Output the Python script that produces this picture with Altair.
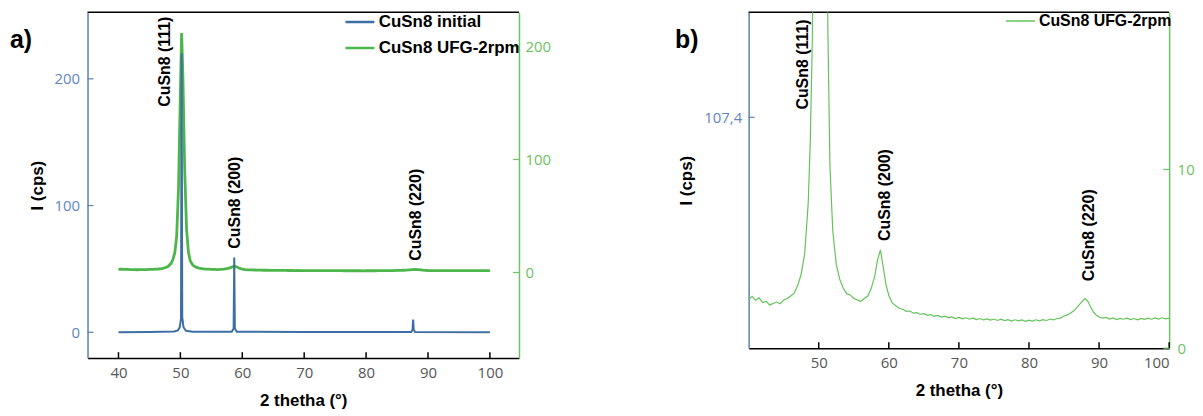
import altair as alt
import pandas as pd

# ---------------- data ----------------
# CuSn8 UFG-2rpm (green) : 2theta / intensity
g_theta = [40.0, 40.5, 41.0, 41.5, 42.0, 42.5, 43.0, 43.5, 44.0, 44.5, 45.0, 45.5, 46.0, 46.5,
           47.0, 47.5, 48.0, 48.5, 48.8, 49.1, 49.4, 49.7, 50.0, 50.2, 50.4, 50.7, 51.0, 51.3,
           51.6, 52.0, 52.5, 53.0, 53.5, 54.0, 54.5, 55.0, 55.5, 56.0, 56.5, 57.0, 57.5, 58.0,
           58.4, 58.8, 59.2, 59.6, 60.0, 60.5, 61.0, 61.5, 62.0, 62.5, 63.0, 63.5, 64.0, 64.5,
           65.0, 65.5, 66.0, 66.5, 67.0, 67.5, 68.0, 68.5, 69.0, 69.5, 70.0, 70.5, 71.0, 71.5,
           72.0, 72.5, 73.0, 73.5, 74.0, 74.5, 75.0, 75.5, 76.0, 76.5, 77.0, 77.5, 78.0, 78.5,
           79.0, 79.5, 80.0, 80.5, 81.0, 81.5, 82.0, 82.5, 83.0, 83.5, 84.0, 84.5, 85.0, 85.5,
           86.0, 86.5, 87.0, 87.5, 88.0, 88.4, 88.8, 89.2, 89.6, 90.0, 90.5, 91.0, 91.5, 92.0,
           92.5, 93.0, 93.5, 94.0, 94.5, 95.0, 95.5, 96.0, 96.5, 97.0, 97.5, 98.0, 98.5, 99.0,
           99.5, 100.0]
g_int = [2.72, 2.90, 2.68, 2.82, 2.55, 2.62, 2.42, 2.50, 2.58, 2.48, 2.70, 2.78, 2.92, 3.08,
         3.50, 4.15, 5.30, 8.10, 11.6, 17.5, 32.0, 75.0, 160.0, 212.0, 175.0, 90.0, 38.0, 18.0,
         10.2, 6.60, 4.70, 3.85, 3.35, 3.05, 2.98, 2.78, 2.70, 2.62, 2.78, 2.92, 3.35, 4.05,
         4.95, 5.50, 4.55, 3.55, 2.95, 2.52, 2.38, 2.22, 2.18, 2.06, 2.08, 1.96, 1.99, 1.90,
         1.93, 1.84, 1.88, 1.78, 1.83, 1.74, 1.79, 1.70, 1.75, 1.66, 1.72, 1.64, 1.70, 1.62,
         1.68, 1.60, 1.66, 1.58, 1.64, 1.57, 1.63, 1.55, 1.62, 1.54, 1.60, 1.52, 1.59, 1.53,
         1.58, 1.50, 1.57, 1.52, 1.59, 1.53, 1.60, 1.55, 1.63, 1.58, 1.66, 1.68, 1.80, 1.86,
         1.98, 2.12, 2.35, 2.58, 2.78, 2.62, 2.30, 2.02, 1.85, 1.74, 1.68, 1.72, 1.63, 1.69,
         1.60, 1.67, 1.62, 1.68, 1.60, 1.66, 1.59, 1.67, 1.61, 1.68, 1.62, 1.69, 1.63, 1.70,
         1.64, 1.68]

# CuSn8 initial (blue)
b_theta = [40.0, 45.0, 49.0, 49.6, 49.9, 50.1, 50.2, 50.3, 50.5, 50.9, 52.0, 58.3, 58.6, 58.7,
           58.8, 59.1, 70.0, 87.3, 87.5, 87.6, 87.7, 87.9, 100.0]
b_int = [0.0, 0.3, 0.6, 1.5, 4.0, 11.0, 220.0, 12.0, 4.0, 1.2, 0.4, 0.4, 3.0, 59.0,
         3.0, 0.4, 0.2, 0.3, 2.0, 10.0, 2.0, 0.3, 0.0]

series_names = ["CuSn8 initial", "CuSn8 UFG-2rpm"]

# ticks
x_ticks_a = [40, 50, 60, 70, 80, 90, 100]
yl_ticks_a = [0, 100, 200]
yr_ticks_a = [0, 100, 200]
x_ticks_b = [50, 60, 70, 80, 90, 100]
yl_ticks_b = [107.4]
yr_ticks_b = [0, 10]

# peak annotations
peak_labels = ["CuSn8 (111)", "CuSn8 (200)", "CuSn8 (220)"]
peak_theta_a = [47.6, 58.9, 88.0]
peak_pos_a = [178.0, 66.0, 56.5]
peak_theta_b = [47.8, 59.4, 88.5]
peak_pos_b = [13.35, 6.0, 3.75]

panel_labels = ["a)", "b)"]

# ---------------- styles ----------------
BLUE = "#3d6ea6"
GREEN_A = "#4db64a"
GREEN_B = "#63c359"
AX_BLUE = "#5b80b0"
AX_GREEN = "#6cc462"
LBL_BLUE = "#5f87bb"
LBL_GREEN = "#6dbf5f"
FONT = "Open Sans"
BFONT = "Liberation Sans"

WA, HA = 434, 348
WB, HB = 423, 338

XA_DOM = [35, 104.7]
YLA_DOM = [-20.4, 252.6]
YRA_DOM = [-75.8, 230.4]
XB_DOM = [40, 100]
YLB_DOM = [0, 156.3]
YRB_DOM = [0, 18.8]

df_g = pd.DataFrame({"t": g_theta, "v": g_int, "s": series_names[1]})
df_b = pd.DataFrame({"t": b_theta, "v": b_int, "s": series_names[0]})


def yscale(dom):
    return alt.Scale(domain=dom, nice=False, zero=False)


def xaxis(vals):
    return alt.Axis(values=vals, ticks=False, grid=False, domainColor="black", domainWidth=1.5,
                    labelColor="#555555", labelFont=FONT, labelFontSize=15, labelPadding=7,
                    title="2 thetha (°)", titleFont=BFONT, titleFontSize=17, titleFontWeight="bold",
                    titleColor="black", titlePadding=13)


def tick_rules_x(vals, xenc, h):
    return alt.Chart(pd.DataFrame({"t": vals})).mark_rule(color="black", strokeWidth=1.5).encode(
        x=xenc, y=alt.value(h), y2=alt.value(h - 6))


def tick_rules_y(vals, dom, x0, x1, color):
    return alt.Chart(pd.DataFrame({"v": vals})).mark_rule(color=color, strokeWidth=1.2).encode(
        y=alt.Y("v:Q", scale=yscale(dom), axis=None),
        x=alt.value(x0), x2=alt.value(x1))


def top_border(xdom, xenc, ydom):
    # frame line along the top of the plot: from x-domain start to end at the y-domain top
    return alt.Chart(pd.DataFrame({"t": xdom, "v": [ydom[1], ydom[1]]})).mark_line(
        color="black", strokeWidth=1.5).encode(
        x=xenc, y=alt.Y("v:Q", scale=yscale(ydom), axis=None))


def legend(x, y, sw, fs):
    return alt.Legend(title=None, orient="none", legendX=x, legendY=y, symbolType="stroke",
                      symbolSize=841, symbolStrokeWidth=sw, labelFont=BFONT, labelFontSize=fs,
                      labelFontWeight="bold", labelColor="black", clipHeight=20, rowPadding=6,
                      labelOffset=3, padding=0)


# ---------------- panel a ----------------
xa = alt.X("t:Q", scale=alt.Scale(domain=XA_DOM, nice=False, zero=False), axis=xaxis(x_ticks_a))
col_a = alt.Color("s:N", scale=alt.Scale(domain=series_names, range=[BLUE, GREEN_A]),
                  legend=legend(258, 0, 2.5, 17))

green_a = alt.Chart(df_g).mark_line(strokeWidth=2.8).encode(
    x=xa,
    y=alt.Y("v:Q", scale=yscale(YRA_DOM),
            axis=alt.Axis(orient="right", values=yr_ticks_a, ticks=False, grid=False,
                          domainColor=AX_GREEN, domainWidth=1.5, labelColor=LBL_GREEN,
                          labelFont=FONT, labelFontSize=15, labelPadding=6, title=None)),
    color=col_a, order=alt.Order("t:Q"))

blue_a = alt.Chart(df_b).mark_line(strokeWidth=2).encode(
    x=xa,
    y=alt.Y("v:Q", scale=yscale(YLA_DOM),
            axis=alt.Axis(orient="left", values=yl_ticks_a, ticks=False, grid=False,
                          domainColor=AX_BLUE, domainWidth=1.5, labelColor=LBL_BLUE,
                          labelFont=FONT, labelFontSize=15, labelPadding=8,
                          title="I (cps)", titleFont=BFONT, titleFontSize=17,
                          titleFontWeight="bold", titleColor="black", titlePadding=8)),
    color=col_a, order=alt.Order("t:Q"))

ann_a = alt.Chart(pd.DataFrame({"t": peak_theta_a, "v": peak_pos_a, "lab": peak_labels})).mark_text(
    angle=270, align="left", baseline="middle", font=BFONT, fontSize=16, fontWeight="bold",
    color="black").encode(
    x=xa, y=alt.Y("v:Q", scale=yscale(YLA_DOM), axis=None), text="lab:N")

lab_a = alt.Chart(pd.DataFrame({"p": [panel_labels[0]]})).mark_text(
    align="left", baseline="middle", font=BFONT, fontSize=25, fontWeight="bold", color="black").encode(
    x=alt.value(-78), y=alt.value(28), text="p:N")

panel_a = alt.layer(
    top_border(XA_DOM, xa, YLA_DOM),
    green_a, blue_a,
    tick_rules_x(x_ticks_a, xa, HA),
    tick_rules_y(yl_ticks_a, YLA_DOM, 0, 6, AX_BLUE),
    tick_rules_y(yr_ticks_a, YRA_DOM, WA, WA - 6, AX_GREEN),
    ann_a, lab_a,
).resolve_scale(y="independent").properties(width=WA, height=HA)

# ---------------- panel b ----------------
xb = alt.X("t:Q", scale=alt.Scale(domain=XB_DOM, nice=False, zero=False), axis=xaxis(x_ticks_b))
col_b = alt.Color("s:N", scale=alt.Scale(domain=[series_names[1]], range=[GREEN_B]),
                  legend=legend(258, -1, 1.5, 16))

green_b = alt.Chart(df_g).mark_line(strokeWidth=1.2, clip=True).encode(
    x=xb,
    y=alt.Y("v:Q", scale=yscale(YRB_DOM),
            axis=alt.Axis(orient="right", values=yr_ticks_b, ticks=False, grid=False,
                          domainColor=AX_GREEN, domainWidth=1.5, labelColor=LBL_GREEN,
                          labelFont=FONT, labelFontSize=15, labelPadding=8, title=None)),
    color=col_b, order=alt.Order("t:Q"))

left_b = alt.Chart(pd.DataFrame({"v": yl_ticks_b})).mark_rule(color=AX_BLUE, strokeWidth=1.2).encode(
    y=alt.Y("v:Q", scale=yscale(YLB_DOM),
            axis=alt.Axis(orient="left", values=yl_ticks_b, ticks=False, grid=False,
                          domainColor=AX_BLUE, domainWidth=1.5, labelColor=LBL_BLUE,
                          labelFont=FONT, labelFontSize=15, labelPadding=7,
                          labelExpr="replace(format(datum.value, '.1f'), '.', ',')",
                          title="I (cps)", titleFont=BFONT, titleFontSize=17,
                          titleFontWeight="bold", titleColor="black", titlePadding=8)),
    x=alt.value(0), x2=alt.value(6))

ann_b = alt.Chart(pd.DataFrame({"t": peak_theta_b, "v": peak_pos_b, "lab": peak_labels})).mark_text(
    angle=270, align="left", baseline="middle", font=BFONT, fontSize=16, fontWeight="bold",
    color="black").encode(
    x=xb, y=alt.Y("v:Q", scale=yscale(YRB_DOM), axis=None), text="lab:N")

lab_b = alt.Chart(pd.DataFrame({"p": [panel_labels[1]]})).mark_text(
    align="left", baseline="middle", font=BFONT, fontSize=25, fontWeight="bold", color="black").encode(
    x=alt.value(-74), y=alt.value(28), text="p:N")

panel_b = alt.layer(
    top_border(XB_DOM, xb, YRB_DOM),
    green_b, left_b,
    tick_rules_x(x_ticks_b, xb, HB),
    tick_rules_y(yr_ticks_b, YRB_DOM, WB, WB - 6, AX_GREEN),
    ann_b, lab_b,
).resolve_scale(y="independent").properties(width=WB, height=HB)

chart = alt.hconcat(panel_a, panel_b, spacing=125).resolve_scale(
    color="independent").resolve_legend(color="independent").properties(
    padding={"left": 2, "top": 0, "right": 0, "bottom": 0}
).configure(background="white").configure_view(stroke=None)

chart.save("out.html", embed_options={"renderer": "svg", "actions": False})
